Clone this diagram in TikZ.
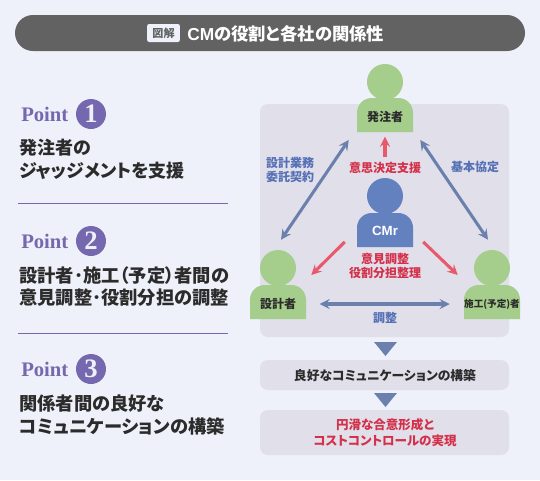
\documentclass[tikz,border=0pt]{standalone}
\usepackage{fontspec}
\setmainfont{Liberation Serif}
\newfontfamily\jpfont[RawFeature=+palt]{Noto Sans CJK JP}
\newfontfamily\latinsans{Liberation Sans}
\definecolor{pagebg}{HTML}{EEF1F9}
\definecolor{panelbg}{HTML}{E1DFEA}
\definecolor{barbg}{HTML}{626262}
\definecolor{pointpurple}{HTML}{7568AE}
\definecolor{persongreen}{HTML}{A5CD8C}
\definecolor{personblue}{HTML}{6380BF}
\definecolor{linkblue}{HTML}{6C80AD}
\definecolor{labelblue}{HTML}{5570B5}
\definecolor{linkred}{HTML}{E85A6B}
\definecolor{labelred}{HTML}{D4304A}
\definecolor{inkdark}{HTML}{2B2B2B}
\tikzset{
  panelbox/.style={fill=panelbg, rounded corners=6pt},
  headdot/.style={circle, fill=#1, minimum size=27pt, inner sep=0pt},
  personbody/.style={minimum width=42pt, minimum height=25pt, inner sep=0pt, text=inkdark, font=\jpfont\bfseries\fontsize{9}{11}\selectfont},
  pointword/.style={anchor=west, inner sep=0pt, text=pointpurple, font=\bfseries\fontsize{15.5}{18}\selectfont},
  pointdot/.style={circle, fill=pointpurple, minimum size=22.5pt, inner sep=0pt, text=pagebg, font=\bfseries\fontsize{20}{20}\selectfont},
  pointtext/.style={anchor=west, align=left, inner sep=0pt, text=inkdark, font=\jpfont\bfseries\fontsize{13.7}{17}\selectfont},
  bluelabel/.style={align=center, inner sep=0pt, text=labelblue, font=\jpfont\bfseries\fontsize{9}{10.5}\selectfont},
  redlabel/.style={align=center, inner sep=0pt, text=labelred, font=\jpfont\bfseries\fontsize{9}{10.5}\selectfont},
  bluelink/.style={<->, line width=2.3pt, linkblue},
  redlink/.style={->, line width=2.3pt, linkred},
  downmark/.style={fill=linkblue},
  rulebar/.style={pointpurple, line width=0.7pt}
}
\newcommand{\bodyshape}[3]{\fill[#3] (#1-28,#2+34) [rounded corners=11pt] -- (#1-28,#2) -- (#1+28,#2) [sharp corners] -- (#1+28,#2+34) -- cycle;}
\begin{document}
\begin{tikzpicture}[x=0.75pt, y=-0.75pt, >=stealth]
    \useasboundingbox (0,0) rectangle (540,480);
    \fill[pagebg] (0,0) rectangle (540,480);

    % title bar
    \fill[barbg, rounded corners=13.5pt] (15,15) rectangle (525,51);
    \node[fill=pagebg, rounded corners=1.5pt, minimum width=24.5pt, minimum height=13.5pt, inner sep=0pt, text=barbg, font=\jpfont\bfseries\fontsize{8.3}{9}\selectfont] (tag) at (163.5,33) {図解};
    \node[anchor=west, inner sep=0pt, text=white, font=\jpfont\bfseries\fontsize{13}{14}\selectfont] (title) at (187,34) {{\latinsans CM}の役割と各社の関係性};

    % left column
    \node[pointword] (word1) at (21,114) {Point};
    \node[pointdot] (num1) at (91,114) {1};
    \node[pointtext, font=\jpfont\bfseries\fontsize{13.5}{17}\selectfont] (text1) at (19,159) {発注者の\\ジャッジメントを支援};
    \draw[rulebar] (18,203) -- (228,203);

    \node[pointword] (word2) at (21,241) {Point};
    \node[pointdot] (num2) at (91,241) {2};
    \node[pointtext] (text2) at (19,286.5) {設計者･施工（予定）者間の\\意見調整･役割分担の調整};
    \draw[rulebar] (18,333) -- (228,333);

    \node[pointword] (word3) at (21,369) {Point};
    \node[pointdot] (num3) at (91,369) {3};
    \node[pointtext] (text3) at (19,415) {関係者間の良好な\\コミュニケーションの構築};

    % panels
    \fill[panelbox] (260,104) rectangle (509,337);
    \fill[panelbox] (260,360) rectangle (509,390);
    \fill[panelbox] (260,410) rectangle (509,455);

    % persons
    \bodyshape{385}{98}{persongreen}
    \node[headdot=persongreen] (ownerhead) at (385,82) {};
    \node[personbody] (owner) at (385,117) {発注者};

    \bodyshape{385}{213}{personblue}
    \node[headdot=personblue] (cmrhead) at (385,196) {};
    \node[personbody, text=white, font=\latinsans\bfseries\fontsize{10}{12}\selectfont] (cmr) at (385,231) {CMr};

    \bodyshape{278}{285}{persongreen}
    \node[headdot=persongreen] (designerhead) at (278,268) {};
    \node[personbody] (designer) at (278,304) {設計者};

    \bodyshape{492}{285}{persongreen}
    \node[headdot=persongreen] (builderhead) at (492,268) {};
    \node[personbody, font=\jpfont\bfseries\fontsize{7.2}{10}\selectfont] (builder) at (492,304) {施工(予定)者};

    % labels
    \node[bluelabel] (contract) at (290,170) {設計業務\\委託契約};
    \node[bluelabel] (basic) at (475,167) {基本協定};
    \node[bluelabel] (adjust) at (385,318) {調整};
    \node[redlabel] (decision) at (385,168) {意思決定支援};
    \node[redlabel] (sharing) at (385,266) {意見調整\\役割分担整理};

    % connectors
    \draw[bluelink] ([shift={(-8,6)}]owner.south west) -- ([shift={(3,-10)}]designerhead.north);
    \draw[bluelink] ([shift={(7,6)}]owner.south east) -- ([shift={(-4,-10)}]builderhead.north);
    \draw[bluelink] ([xshift=10pt]designer.east) -- ([xshift=-10.5pt]builder.west);
    \draw[redlink] ([yshift=3.7pt]decision.north) -- ([yshift=-2pt]owner.south);
    \draw[redlink] ([shift={(-12,-6)}]cmr.south west) -- ([shift={(15,7)}]designerhead.east);
    \draw[redlink] ([shift={(10,-6)}]cmr.south east) -- ([shift={(-16,7)}]builderhead.west);

    % flow below the panel
    \fill[downmark] (374,342) -- (397,342) -- (385.5,356) -- cycle;
    \node[inner sep=0pt, text=inkdark, font=\jpfont\bfseries\fontsize{9.6}{11}\selectfont] (good) at (385,376) {良好なコミュニケーションの構築};
    \fill[downmark] (374,393) -- (397,393) -- (385.5,407) -- cycle;
    \node[redlabel, font=\jpfont\bfseries\fontsize{9.4}{12}\selectfont] (result) at (385,433) {円滑な合意形成と\\コストコントロールの実現};
\end{tikzpicture}
\end{document}
